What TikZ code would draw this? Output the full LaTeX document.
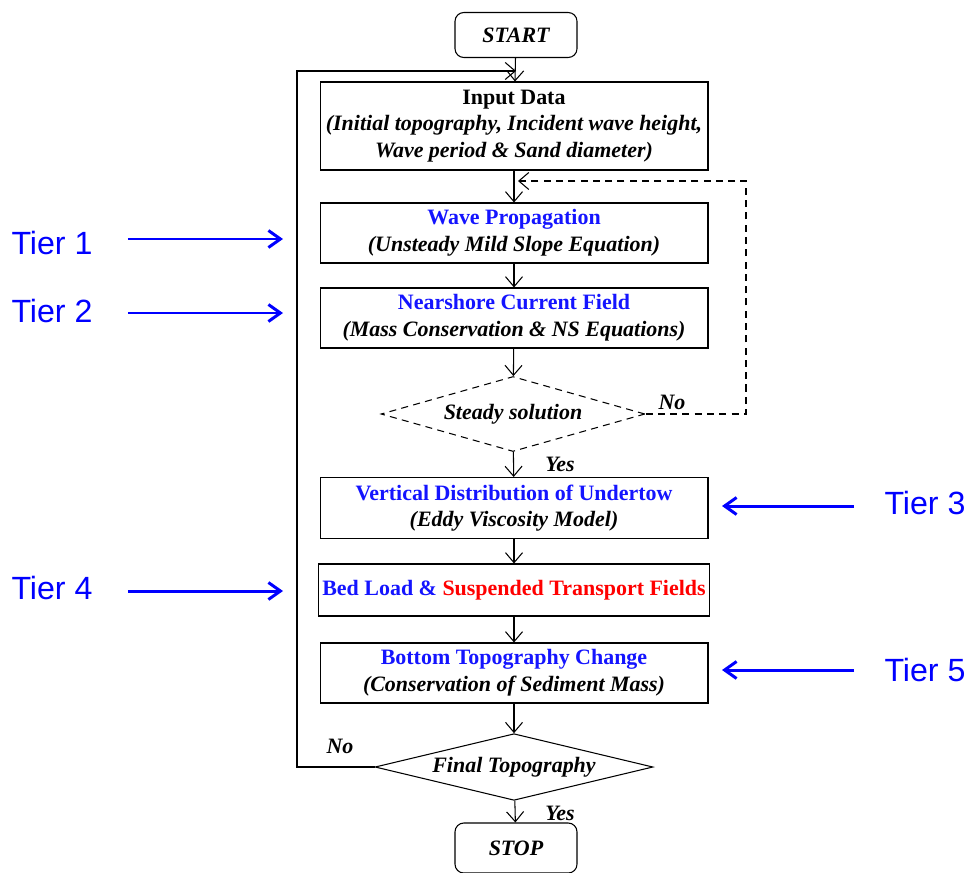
\documentclass[tikz,border=0pt]{standalone}
\usepackage{fontspec}
\setmainfont{Liberation Serif}
\newfontfamily\tierfont{Liberation Sans}
\usetikzlibrary{shapes.geometric,arrows.meta}
\definecolor{tierBlue}{RGB}{0,0,255}
\definecolor{titleBlue}{RGB}{20,20,255}
\definecolor{titleRed}{RGB}{255,0,0}

\begin{document}
\begin{tikzpicture}[x=0.02cm, y=-0.02cm,
    box/.style={draw, line width=0.6pt, minimum width=7.76cm, align=center, inner sep=2pt, font=\fontsize{12.5}{15.2}\selectfont\bfseries},
    term/.style={draw, line width=0.6pt, rounded corners=5pt, minimum width=2.44cm, minimum height=0.9cm, font=\fontsize{12.5}{15.2}\selectfont\bfseries\itshape},
    decision/.style={diamond, draw, line width=0.6pt, aspect=3.5, inner sep=0pt, font=\fontsize{12.5}{15.2}\selectfont\bfseries\itshape},
    answer/.style={inner sep=0pt, font=\fontsize{12.5}{15.2}\selectfont\bfseries\itshape},
    flow/.style={-{Straight Barb[length=2mm,width=3.4mm]}, line width=0.6pt},
    tier/.style={inner sep=0pt, text=tierBlue, font=\tierfont\fontsize{18.3}{20}\selectfont},
    tierarrow/.style={-{Straight Barb[length=2.4mm,width=3.4mm]}, line width=1.7pt, tierBlue}]
    \useasboundingbox (0,0) rectangle (969,872);
    \clip (0,0) rectangle (969,872);

    % flow chart
    \node[term] (start) at (516,35) {START};
    \node[box, minimum height=1.76cm] (input) at (514,126) {Input Data\\\textit{(Initial topography, Incident wave height,}\\\textit{Wave period \& Sand diameter)}};
    \node[box, minimum height=1.2cm] (wave) at (514,233) {\textcolor{titleBlue}{Wave Propagation}\\\textit{(Unsteady Mild Slope Equation)}};
    \node[box, minimum height=1.2cm] (current) at (514,318) {\textcolor{titleBlue}{Nearshore Current Field}\\\textit{(Mass Conservation \& NS Equations)}};
    \node[decision, dashed, dash pattern=on 4pt off 3pt, minimum width=5.28cm, minimum height=1.5cm] (steady) at (513,414) {Steady solution};
    \node[box, minimum height=1.22cm] (undertow) at (514,508) {\textcolor{titleBlue}{Vertical Distribution of Undertow}\\\textit{(Eddy Viscosity Model)}};
    \node[box, minimum height=1.04cm] (transport) at (514,590) {\textcolor{titleBlue}{Bed Load \&} \textcolor{titleRed}{Suspended Transport Fields}};
    \node[box, minimum height=1.2cm] (bottom) at (514,673) {\textcolor{titleBlue}{Bottom Topography Change}\\\textit{(Conservation of Sediment Mass)}};
    \node[decision, minimum width=5.56cm, minimum height=1.3cm] (final) at (514,767) {Final Topography};
    \node[term, minimum height=1cm] (stop) at (516,848) {STOP};

    \node[answer] (noA) at (672,402) {No};
    \node[answer] (yesA) at (560,464) {Yes};
    \node[answer] (noB) at (340,746) {No};
    \node[answer] (yesB) at (560,813) {Yes};

    \coordinate (loopbl) at (297,767);
    \coordinate (looptl) at (297,71);
    \coordinate (merge1) at (516,71);
    \coordinate (backbr) at (746,414);
    \coordinate (backtr) at (746,181);
    \coordinate (merge2) at (518,181);

    \draw[flow] (start) -- (input);
    \draw[flow] (input) -- (wave);
    \draw[flow] (wave) -- (current);
    \draw[flow] (current) -- (steady);
    \draw[flow] (steady) -- (undertow);
    \draw[flow] (undertow) -- (transport);
    \draw[flow] (transport) -- (bottom);
    \draw[flow] (bottom) -- (final);
    \draw[flow] (final) -- (stop);
    \draw[flow, dash pattern=on 4pt off 3pt] (steady.east) -- (backbr) -- (backtr) -- (merge2);
    \draw[flow] (final.west) -- (loopbl) -- (looptl) -- (merge1);

    % tiers
    \node[tier] (tier1) at (52,243) {Tier 1};
    \node[tier] (tier2) at (52,311) {Tier 2};
    \node[tier] (tier3) at (925,503) {Tier 3};
    \node[tier] (tier4) at (52,588) {Tier 4};
    \node[tier] (tier5) at (925,670) {Tier 5};
    \coordinate (tip1) at (283,239);
    \coordinate (tip2) at (283,313);
    \coordinate (tip3) at (722,506);
    \coordinate (tip4) at (283,591);
    \coordinate (tip5) at (722,670);
    \draw[tierarrow] ([xshift=0.7cm]tier1.east |- tip1) -- (tip1);
    \draw[tierarrow] ([xshift=0.7cm]tier2.east |- tip2) -- (tip2);
    \draw[tierarrow] ([xshift=-0.6cm]tier3.west |- tip3) -- (tip3);
    \draw[tierarrow] ([xshift=0.7cm]tier4.east |- tip4) -- (tip4);
    \draw[tierarrow] ([xshift=-0.6cm]tier5.west |- tip5) -- (tip5);
\end{tikzpicture}
\end{document}
